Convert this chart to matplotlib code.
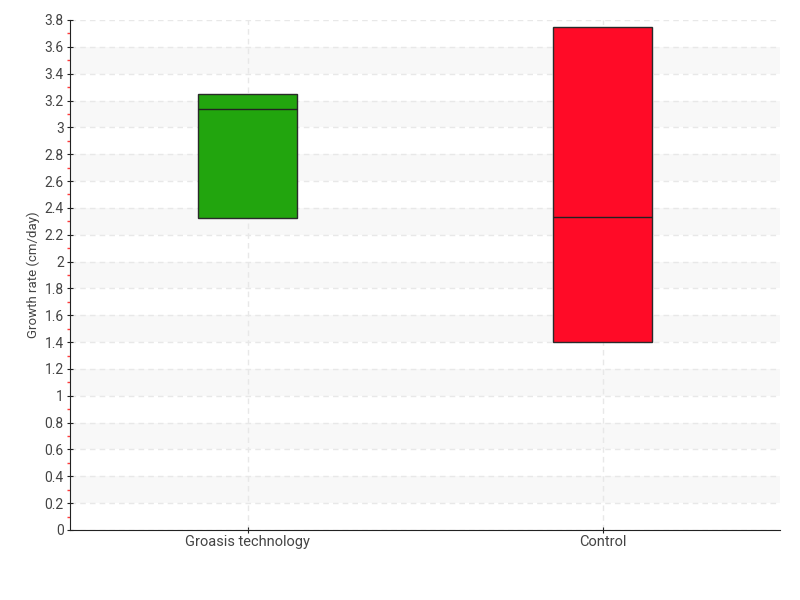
import numpy as np
import matplotlib
matplotlib.use("Agg")
import matplotlib.pyplot as plt
from matplotlib.ticker import MultipleLocator, FuncFormatter

# data
categories = ["Groasis technology", "Control"]
q1 = [2.325, 1.40]
median = [3.135, 2.33]
q3 = [3.25, 3.75]
colors = ["#22a50e", "#ff0b27"]

plt.rcParams["font.family"] = ["Roboto", "DejaVu Sans"]

fig = plt.figure(figsize=(8, 6), dpi=100)
ax = fig.add_axes([0.0875, 0.1167, 0.8875, 0.85])

# alternating bands
for lo in np.arange(0.2, 3.8, 0.4):
    ax.axhspan(lo, lo + 0.2, color="#f8f8f8", zorder=0, lw=0)

x = np.arange(len(categories))
width = 0.28
heights = [b - a for a, b in zip(q1, q3)]
ax.bar(x, heights, width=width, bottom=q1, color=colors,
       edgecolor="#2a2a2a", linewidth=1, zorder=3)
ax.hlines(median, x - width / 2, x + width / 2, color="#222222", lw=1, zorder=4)

ax.set_xlim(-0.5, 1.5)
ax.set_ylim(0, 3.8)
ax.set_xticks(x)
ax.set_xticklabels(categories)
ax.yaxis.set_major_locator(MultipleLocator(0.2))
ax.yaxis.set_minor_locator(MultipleLocator(0.1))
ax.yaxis.set_major_formatter(FuncFormatter(lambda v, p: f"{round(v, 1):g}"))

ax.grid(axis="y", which="major", ls=(0, (4, 3)), color="#e8e8e8", lw=1, zorder=1)
ax.grid(axis="x", which="major", ls=(0, (4, 3)), color="#e8e8e8", lw=1, zorder=1)

for s in ["top", "right"]:
    ax.spines[s].set_visible(False)
ax.spines["left"].set_color("#222222")
ax.spines["bottom"].set_color("#222222")

ax.tick_params(axis="y", which="major", direction="inout", length=5,
               color="#222222", labelsize=10, labelcolor="#444444", pad=2)
ax.tick_params(axis="y", which="minor", direction="out", length=2.5,
               width=1, color="#ff3b3b")
ax.tick_params(axis="x", which="major", direction="inout", length=5,
               color="#222222", labelsize=10.5, labelcolor="#444444", pad=1)

ax.set_ylabel("Growth rate (cm/day)", fontsize=9.5, color="#444444")
ax.yaxis.set_label_coords(-0.042, 0.5)

fig.savefig("out.png")
